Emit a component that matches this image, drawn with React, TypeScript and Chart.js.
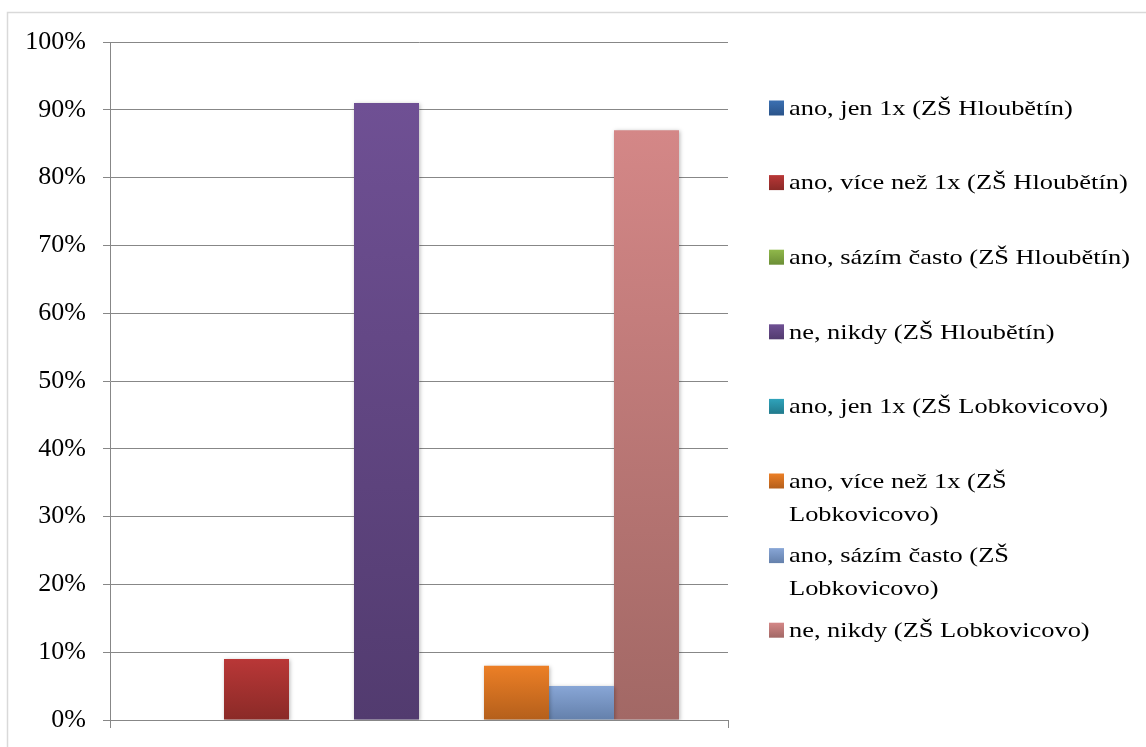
import React, { useEffect, useRef } from "react";
import { Chart, registerables } from "chart.js";

Chart.register(...registerables);

// Single unlabelled category, eight answer series
const CATEGORIES = [""];

const SERIES_NAMES = [
  "ano, jen 1x (ZŠ Hloubětín)",
  "ano, více než 1x (ZŠ Hloubětín)",
  "ano, sázím často (ZŠ Hloubětín)",
  "ne, nikdy (ZŠ Hloubětín)",
  "ano, jen 1x (ZŠ Lobkovicovo)",
  "ano, více než 1x (ZŠ Lobkovicovo)",
  "ano, sázím často (ZŠ Lobkovicovo)",
  "ne, nikdy (ZŠ Lobkovicovo)",
];

const SERIES_VALUES = [0, 9, 0, 91, 0, 8, 5, 87];

// gradient top / bottom colours per series
const COLORS_TOP = ["#3b70b2", "#b93737", "#90b84b", "#6f5094", "#2fa3bb", "#ec7f26", "#88a6d6", "#d48787"];
const COLORS_BOTTOM = ["#2a5389", "#8a2a27", "#6b8e35", "#523b6f", "#217a8c", "#b45f1b", "#6480ab", "#a26865"];

const Y_MIN = 0;
const Y_MAX = 100;
const Y_STEP = 10;

const FONT = '"Liberation Serif", "Times New Roman", serif';
const AXIS_GRAY = "#878787";

const W = 1146;
const H = 747;

function barGradient(ctx: any, i: number) {
  const chart = ctx.chart;
  const area = chart.chartArea;
  if (!area || ctx.type !== "data") return COLORS_TOP[i];
  const yScale = chart.scales.y;
  const top = yScale.getPixelForValue(ctx.raw as number);
  const base = yScale.getPixelForValue(0);
  if (!isFinite(top) || Math.abs(base - top) < 1) return COLORS_TOP[i];
  const g = chart.ctx.createLinearGradient(0, top, 0, base);
  g.addColorStop(0, COLORS_TOP[i]);
  g.addColorStop(1, COLORS_BOTTOM[i]);
  return g;
}

const framePlugin = {
  id: "frame",
  beforeDraw(chart: any) {
    const c = chart.ctx;
    c.save();
    c.fillStyle = "#ffffff";
    c.fillRect(0, 0, chart.width, chart.height);
    c.strokeStyle = "#d9d9d9";
    c.lineWidth = 1.5;
    c.strokeRect(7.5, 12.5, chart.width + 10, chart.height + 10);
    c.restore();
  },
};

const shadowPlugin = {
  id: "barShadow",
  beforeDatasetsDraw(chart: any) {
    const c = chart.ctx;
    c.save();
    c.shadowColor = "rgba(0,0,0,0.28)";
    c.shadowBlur = 4;
    c.shadowOffsetX = 1;
    c.shadowOffsetY = 1;
  },
  afterDatasetsDraw(chart: any) {
    chart.ctx.restore();
  },
};

function wrapText(c: CanvasRenderingContext2D, text: string, maxW: number): string[] {
  const words = text.split(" ");
  const lines: string[] = [];
  let cur = "";
  for (const w of words) {
    const test = cur ? cur + " " + w : w;
    if (c.measureText(test).width > maxW && cur) {
      lines.push(cur);
      cur = w;
    } else {
      cur = test;
    }
  }
  if (cur) lines.push(cur);
  return lines;
}

const legendPlugin = {
  id: "sideLegend",
  afterDraw(chart: any) {
    const c = chart.ctx as CanvasRenderingContext2D;
    const boxX = 769;
    const box = 15;
    const textX = 789;
    const firstY = 108;
    const step = 74.6;
    const lineH = 33;
    const stretch = 1.2;
    const maxW = 352 / stretch;
    c.save();
    c.font = `22px ${FONT}`;
    c.textBaseline = "middle";
    c.textAlign = "left";
    chart.data.datasets.forEach((ds: any, i: number) => {
      const y = firstY + i * step;
      const g = c.createLinearGradient(0, y - box / 2, 0, y + box / 2);
      g.addColorStop(0, COLORS_TOP[i]);
      g.addColorStop(1, COLORS_BOTTOM[i]);
      c.fillStyle = g;
      c.fillRect(boxX, y - box / 2, box, box);
      c.fillStyle = "#000000";
      const lines = wrapText(c, ds.label, maxW);
      lines.forEach((ln, k) => {
        c.save();
        c.translate(textX, y + 1 + k * lineH);
        c.scale(stretch, 1);
        c.fillText(ln, 0, 0);
        c.restore();
      });
    });
    c.restore();
  },
};

export default function App() {
  const ref = useRef<HTMLCanvasElement | null>(null);

  useEffect(() => {
    if (!ref.current) return;
    const chart = new Chart(ref.current, {
      type: "bar",
      data: {
        labels: CATEGORIES,
        datasets: SERIES_NAMES.map((name, i) => ({
          label: name,
          data: [SERIES_VALUES[i]],
          backgroundColor: (ctx: any) => barGradient(ctx, i),
          borderWidth: 0,
          categoryPercentage: 0.8414,
          barPercentage: 1,
        })),
      },
      options: {
        animation: false,
        responsive: false,
        maintainAspectRatio: false,
        events: [],
        layout: { padding: { left: 0, top: 42, right: W - 728, bottom: 0 } },
        plugins: {
          legend: { display: false },
          tooltip: { enabled: false },
          title: { display: false },
        },
        scales: {
          x: {
            type: "category",
            offset: true,
            grid: {
              offset: true,
              drawOnChartArea: false,
              drawTicks: true,
              tickLength: 8,
              color: AXIS_GRAY,
              lineWidth: 1,
            },
            border: { display: true, color: AXIS_GRAY, width: 1 },
            ticks: { display: true, font: { size: 1 } },
            afterFit: (scale: any) => {
              scale.height = 27;
              scale.paddingLeft = 0;
              scale.paddingRight = 0;
            },
          },
          y: {
            min: Y_MIN,
            max: Y_MAX,
            ticks: {
              stepSize: Y_STEP,
              padding: 17,
              color: "#000000",
              font: { family: FONT, size: 26 },
              callback: (v: any) => `${v}%`,
            },
            grid: {
              color: AXIS_GRAY,
              lineWidth: 1,
              drawTicks: true,
              tickLength: 7,
            },
            border: { display: true, color: AXIS_GRAY, width: 1 },
            afterFit: (scale: any) => {
              scale.width = 110;
              scale.paddingTop = 0;
              scale.paddingBottom = 0;
            },
          },
        },
      },
      plugins: [framePlugin, shadowPlugin, legendPlugin],
    });
    return () => chart.destroy();
  }, []);

  return (
    <div style={{ position: "absolute", left: 0, top: 0, width: W, height: H, overflow: "hidden" }}>
      <canvas ref={ref} width={W} height={H} style={{ display: "block", width: W, height: H }} />
    </div>
  );
}
